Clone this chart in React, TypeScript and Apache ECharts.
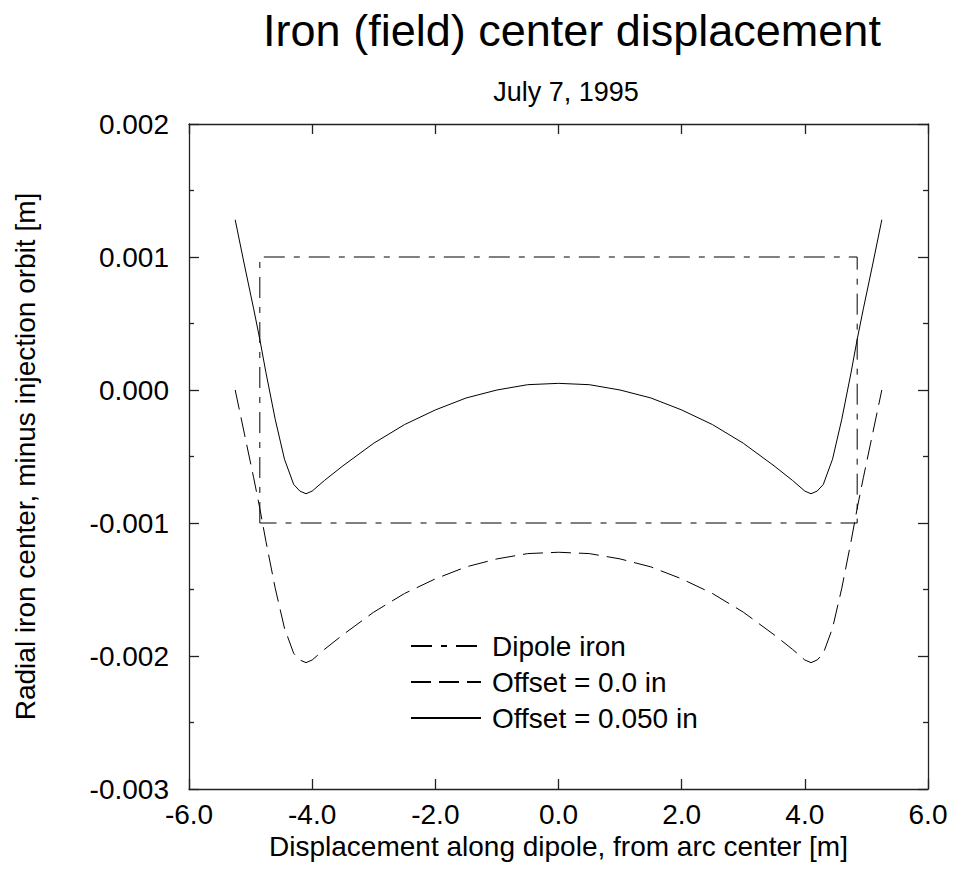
import React, { useEffect, useRef } from "react";
import * as echarts from "echarts";

const FONT = "'Liberation Sans', Arial, Helvetica, sans-serif";

const TITLE = "Iron (field) center displacement";
const SUBTITLE = "July 7, 1995";
const X_NAME = "Displacement along dipole, from arc center [m]";
const Y_NAME = "Radial iron center, minus injection orbit [m]";

const LEGEND_NAMES = ["Dipole iron", "Offset = 0.0 in", "Offset = 0.050 in"];

// Dipole iron outline (dash-dot)
const dipoleX = [-4.85, -4.85, 4.85, 4.85, -4.85];
const dipoleY = [-0.001, 0.001, 0.001, -0.001, -0.001];

// Curve sample positions [m]
const curveX = [
  -5.25, -5.1, -4.95, -4.85, -4.75, -4.6, -4.45, -4.3, -4.2, -4.1, -4.0, -3.8,
  -3.5, -3.0, -2.5, -2.0, -1.5, -1.0, -0.5, 0, 0.5, 1.0, 1.5, 2.0, 2.5, 3.0,
  3.5, 3.8, 4.0, 4.1, 4.2, 4.3, 4.45, 4.6, 4.75, 4.85, 4.95, 5.1, 5.25,
];

// Offset = 0.0 in (dashed)
const offset00 = [
  0.0, -0.00033, -0.00066, -0.00089, -0.00114, -0.00149, -0.00179, -0.00198,
  -0.00203, -0.00205, -0.00203, -0.00195, -0.00184, -0.00167, -0.00153,
  -0.00142, -0.00133, -0.00127, -0.00123, -0.00122, -0.00123, -0.00127,
  -0.00133, -0.00142, -0.00153, -0.00167, -0.00184, -0.00195, -0.00203,
  -0.00205, -0.00203, -0.00198, -0.00179, -0.00149, -0.00114, -0.00089,
  -0.00066, -0.00033, 0.0,
];

// Offset = 0.050 in (solid)
const offset050 = [
  0.00128, 0.00094, 0.00061, 0.00038, 0.00013, -0.00022, -0.00052, -0.00071,
  -0.00076, -0.00078, -0.00076, -0.00068, -0.00057, -0.0004, -0.00026,
  -0.00015, -0.00006, 0.0, 0.00004, 0.00005, 0.00004, 0.0, -0.00006, -0.00015,
  -0.00026, -0.0004, -0.00057, -0.00068, -0.00076, -0.00078, -0.00076,
  -0.00071, -0.00052, -0.00022, 0.00013, 0.00038, 0.00061, 0.00094, 0.00128,
];

const X_MIN = -6;
const X_MAX = 6;
const X_STEP = 2;
const Y_MIN = -0.003;
const Y_MAX = 0.002;
const Y_STEP = 0.001;

export default function App() {
  const ref = useRef<HTMLDivElement>(null);

  useEffect(() => {
    document.body.style.margin = "0";
    if (!ref.current) return;
    const chart = echarts.init(ref.current, null, { renderer: "svg" });

    const axisLineStyle = { color: "#222", width: 1.3 };
    const labelStyle = { fontSize: 28, color: "#000", fontFamily: FONT };

    const option: any = {
      animation: false,
      backgroundColor: "#fff",
      textStyle: { fontFamily: FONT },
      title: [
        {
          text: TITLE,
          left: 567,
          top: 3,
          textAlign: "center",
          textStyle: { fontSize: 45, fontWeight: "normal", color: "#000", fontFamily: FONT },
        },
        {
          text: SUBTITLE,
          left: 561,
          top: 73,
          textAlign: "center",
          textStyle: { fontSize: 27, fontWeight: "normal", color: "#000", fontFamily: FONT },
        },
      ],
      grid: { left: 189, top: 124, right: 26, bottom: 83 },
      legend: {
        orient: "vertical",
        left: 405,
        top: 627,
        itemWidth: 70,
        itemHeight: 14,
        itemGap: 8,
        selectedMode: false,
        data: LEGEND_NAMES,
        itemStyle: { opacity: 0 },
        textStyle: { ...labelStyle, padding: [0, 0, 0, 6] },
      },
      xAxis: [
        {
          type: "value",
          position: "bottom",
          min: X_MIN,
          max: X_MAX,
          interval: X_STEP,
          axisLine: { show: true, onZero: false, lineStyle: axisLineStyle },
          axisTick: { show: true, inside: true, length: 10, lineStyle: axisLineStyle },
          axisLabel: { ...labelStyle, margin: 11, formatter: (v: number) => v.toFixed(1) },
          splitLine: { show: false },
          name: X_NAME,
          nameLocation: "middle",
          nameGap: 37,
          nameTextStyle: labelStyle,
        },
        {
          type: "value",
          position: "top",
          min: X_MIN,
          max: X_MAX,
          interval: X_STEP,
          axisLine: { show: true, onZero: false, lineStyle: axisLineStyle },
          axisTick: { show: true, inside: true, length: 10, lineStyle: axisLineStyle },
          axisLabel: { show: false },
          splitLine: { show: false },
        },
      ],
      yAxis: [
        {
          type: "value",
          position: "left",
          min: Y_MIN,
          max: Y_MAX,
          interval: Y_STEP,
          axisLine: { show: true, onZero: false, lineStyle: axisLineStyle },
          axisTick: { show: true, inside: true, length: 10, lineStyle: axisLineStyle },
          minorTick: { show: true, splitNumber: 2, length: 5, lineStyle: axisLineStyle },
          axisLabel: { ...labelStyle, margin: 20, formatter: (v: number) => v.toFixed(3) },
          splitLine: { show: false },
          minorSplitLine: { show: false },
          name: Y_NAME,
          nameLocation: "middle",
          nameGap: 150,
          nameTextStyle: labelStyle,
        },
        {
          type: "value",
          position: "right",
          min: Y_MIN,
          max: Y_MAX,
          interval: Y_STEP,
          axisLine: { show: true, onZero: false, lineStyle: axisLineStyle },
          axisTick: { show: true, inside: true, length: 10, lineStyle: axisLineStyle },
          minorTick: { show: true, splitNumber: 2, length: 5, lineStyle: axisLineStyle },
          axisLabel: { show: false },
          splitLine: { show: false },
          minorSplitLine: { show: false },
        },
      ],
      series: [
        {
          name: LEGEND_NAMES[0],
          type: "line",
          symbol: "none",
          color: "#000",
          lineStyle: { color: "#000", width: 1, type: [21, 9, 6, 9] },
          data: dipoleX.map((x, i) => [x, dipoleY[i]]),
        },
        {
          name: LEGEND_NAMES[1],
          type: "line",
          symbol: "none",
          color: "#000",
          lineStyle: { color: "#000", width: 1, type: [20, 8] },
          data: curveX.map((x, i) => [x, offset00[i]]),
        },
        {
          name: LEGEND_NAMES[2],
          type: "line",
          symbol: "none",
          color: "#000",
          lineStyle: { color: "#000", width: 1, type: "solid" },
          data: curveX.map((x, i) => [x, offset050[i]]),
        },
      ],
    };

    chart.setOption(option);
    return () => chart.dispose();
  }, []);

  return <div ref={ref} style={{ width: 954, height: 872 }} />;
}
